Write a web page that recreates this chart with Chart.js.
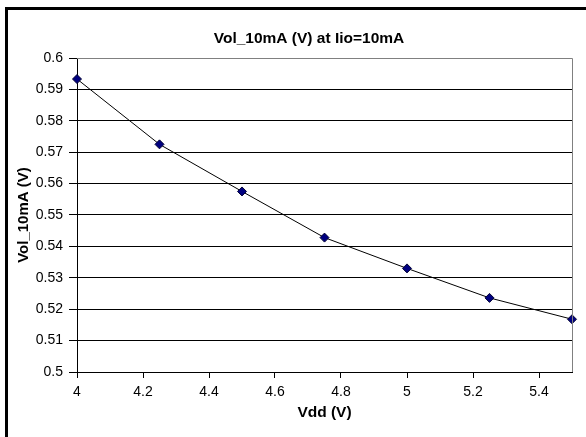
<!DOCTYPE html>
<html>
<head>
<meta charset="utf-8">
<script src="https://cdn.jsdelivr.net/npm/chart.js@4.4.1/dist/chart.umd.min.js"></script>
<style>
    html, body { margin: 0; padding: 0; background: #fff; overflow: hidden; }
    #wrap { position: relative; width: 586px; height: 437px; }
    #frame {
        position: absolute; left: 5px; top: 7px; width: 620px; height: 480px;
        border: 3px solid #000; pointer-events: none;
    }
    canvas { position: absolute; left: 0; top: 0; }
</style>
</head>
<body>
<div id="wrap">
    <canvas id="volChart" width="586" height="437"></canvas>
    <div id="frame"></div>
</div>
<script>
    // data
    const vdd = [4, 4.25, 4.5, 4.75, 5, 5.25, 5.5];
    const vol10mA = [0.5933, 0.5725, 0.5575, 0.5428, 0.5330, 0.5236, 0.5168];
    const xTicks = [4, 4.2, 4.4, 4.6, 4.8, 5, 5.2, 5.4];

    const titleText = "Vol_10mA (V) at Iio=10mA";
    const font = "'Liberation Sans', Arial, sans-serif";

    /* title + gray plot border, Excel style */
    const excelBits = {
        id: "excelBits",
        afterDraw(chart) {
            const { ctx, chartArea } = chart;
            ctx.save();
            ctx.strokeStyle = "#808080";
            ctx.lineWidth = 1;
            ctx.beginPath();
            ctx.moveTo(chartArea.left, chartArea.top + 0.5);
            ctx.lineTo(chartArea.right + 0.5, chartArea.top + 0.5);
            ctx.lineTo(chartArea.right + 0.5, chartArea.bottom);
            ctx.stroke();

            ctx.fillStyle = "#000";
            ctx.font = "bold 15.5px " + font;
            ctx.textAlign = "center";
            ctx.textBaseline = "middle";
            ctx.fillText(titleText, 309, 39);
            ctx.restore();
        }
    };

    new Chart(document.getElementById("volChart").getContext("2d"), {
        type: "scatter",
        data: {
            datasets: [{
                data: vdd.map((x, i) => ({ x: x, y: vol10mA[i] })),
                showLine: true,
                clip: false,
                borderColor: "#000",
                borderWidth: 1,
                pointStyle: "rectRot",
                pointRadius: 4.5,
                pointBackgroundColor: "#000080",
                pointBorderColor: "#000033",
                pointBorderWidth: 1,
                tension: 0
            }]
        },
        options: {
            responsive: false,
            animation: false,
            layout: { padding: { left: 11, right: 14, top: 58, bottom: 15 } },
            plugins: {
                legend: { display: false },
                title: { display: false },
                tooltip: { enabled: false }
            },
            scales: {
                x: {
                    type: "linear",
                    min: 4,
                    max: 5.5,
                    afterBuildTicks: s => { s.ticks = xTicks.map(v => ({ value: v })); },
                    afterFit: s => { s.height = 50; },
                    border: { color: "#000", width: 1 },
                    grid: { drawOnChartArea: false, color: "#000", tickLength: 6 },
                    ticks: {
                        color: "#000", padding: 6, maxRotation: 0,
                        font: { family: font, size: 14 },
                        callback: v => String(Math.round(v * 10) / 10)
                    },
                    title: {
                        display: true, text: "Vdd (V)", color: "#000",
                        font: { family: font, size: 15.5, weight: "bold" },
                        padding: { top: 1, bottom: 0 }
                    }
                },
                y: {
                    min: 0.5,
                    max: 0.6,
                    afterFit: s => { s.width = 66; },
                    border: { color: "#000", width: 1 },
                    grid: { color: "#000", tickLength: 8 },
                    ticks: {
                        stepSize: 0.01, color: "#000", padding: 6,
                        font: { family: font, size: 14 },
                        callback: v => String(Math.round(v * 100) / 100)
                    },
                    title: {
                        display: true, text: "Vol_10mA (V)", color: "#000",
                        font: { family: font, size: 15, weight: "bold" },
                        padding: { top: 4, bottom: 4 }
                    }
                }
            }
        },
        plugins: [excelBits]
    });
</script>
</body>
</html>
